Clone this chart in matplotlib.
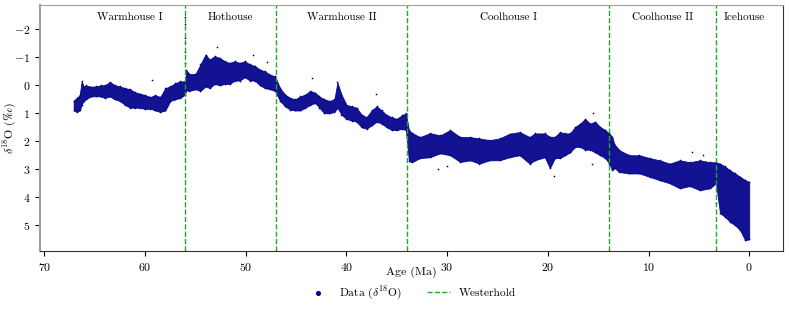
import matplotlib
matplotlib.use('Agg')
import matplotlib.pyplot as plt

plt.rcParams['font.family'] = ['cmr10', 'DejaVu Sans']
plt.rcParams['mathtext.fontset'] = 'cm'
plt.rcParams['axes.formatter.use_mathtext'] = True

# envelope of the d18O cloud (age Ma, upper / lower edge)
age = [67.1, 66.8, 66.5, 66.3, 66.1, 65.9, 65.4, 64.9, 64.4, 64.0, 63.5, 63.0,
       62.5, 62.0, 61.5, 61.0, 60.5, 60.0, 59.5, 59.0, 58.5, 58.0, 57.5, 57.0,
       56.5, 56.05, 55.9, 55.6, 55.0, 54.5, 54.0, 53.6, 53.1, 52.6, 52.1, 51.6,
       51.1, 50.6, 50.1, 49.6, 49.1, 48.6, 48.1, 47.6, 47.1, 46.6, 46.1, 45.6,
       45.1, 44.6, 44.1, 43.6, 43.1, 42.7, 42.2, 41.7, 41.2, 40.9, 40.5, 40.0,
       39.5, 39.0, 38.5, 38.0, 37.5, 37.0, 36.5, 36.0, 35.5, 35.0, 34.5, 34.1,
       33.8, 33.5, 32.7, 31.7, 30.7, 29.7, 28.7, 27.7, 26.8, 25.8, 24.8, 23.8,
       22.8, 21.8, 21.3, 20.3, 19.8, 19.3, 18.8, 18.3, 17.8, 17.3, 16.8, 16.3,
       15.8, 15.3, 14.8, 14.3, 13.9, 13.6, 13.4, 12.9, 11.9, 10.9, 9.9, 8.9,
       7.9, 6.9, 5.9, 4.9, 3.9, 3.3, 2.9, 2.4, 1.9, 1.4, 0.9, 0.4, 0.0]
d18o_top = [0.55, 0.45, 0.35, -0.15, 0.05, 0.0, 0.05, 0.04, 0.0, 0.0, -0.12, 0.0,
            0.04, 0.1, 0.14, 0.25, 0.3, 0.35, 0.42, 0.35, 0.42, 0.1, 0.04, -0.08,
            -0.14, -0.14, -0.54, -0.4, -0.4, -0.75, -1.1, -0.92, -1.04, -0.98, -0.86, -0.8,
            -0.86, -0.8, -0.86, -0.75, -0.69, -0.56, -0.5, -0.38, -0.32, 0.1, 0.33, 0.45,
            0.5, 0.4, 0.33, 0.2, 0.27, 0.4, 0.5, 0.56, 0.5, -0.1, 0.33, 0.7,
            0.75, 0.8, 1.05, 1.14, 0.9, 0.75, 0.9, 1.07, 1.14, 1.2, 1.07, 1.0,
            1.6, 1.7, 1.85, 1.71, 1.79, 1.6, 1.85, 1.85, 1.9, 1.96, 1.9, 1.73,
            1.67, 1.85, 1.72, 1.72, 1.84, 1.84, 1.67, 1.72, 1.72, 1.49, 1.37, 1.2,
            1.37, 1.3, 1.49, 1.6, 1.72, 1.85, 2.1, 2.32, 2.5, 2.5, 2.6, 2.68,
            2.8, 2.68, 2.75, 2.68, 2.75, 2.75, 2.8, 2.9, 3.04, 3.15, 3.27, 3.39, 3.45]
d18o_bot = [0.9, 0.95, 0.9, 0.7, 0.55, 0.5, 0.4, 0.39, 0.4, 0.45, 0.4, 0.5,
            0.56, 0.7, 0.8, 0.8, 0.8, 0.85, 0.83, 0.9, 0.95, 0.9, 0.56, 0.5,
            0.45, 0.33, 0.18, 0.2, 0.14, 0.2, 0.04, 0.1, -0.05, 0.0, -0.05, -0.05,
            -0.17, -0.17, -0.29, -0.17, -0.17, 0.0, 0.1, 0.14, 0.2, 0.56, 0.75, 0.87,
            0.9, 0.9, 0.8, 0.7, 0.63, 0.8, 1.0, 1.0, 0.95, 0.8, 1.05, 1.2,
            1.26, 1.3, 1.5, 1.55, 1.43, 1.3, 1.37, 1.5, 1.6, 1.6, 1.55, 1.6,
            2.7, 2.75, 2.6, 2.57, 2.43, 2.5, 2.74, 2.68, 2.8, 2.68, 2.68, 2.57,
            2.5, 2.8, 2.68, 2.57, 2.96, 2.6, 2.6, 2.5, 2.4, 2.2, 2.2, 2.3,
            2.3, 2.4, 2.5, 2.6, 2.8, 3.04, 2.95, 3.1, 3.15, 3.15, 3.27, 3.39,
            3.5, 3.68, 3.6, 3.75, 3.68, 3.5, 4.57, 4.7, 4.88, 5.0, 5.18, 5.54, 5.5]

# scattered single points outside the main cloud
out_age = [56.0, 56.0, 56.0, 56.0, 56.0, 56.0, 52.9, 49.3, 47.9, 43.4, 37.1, 59.3,
           30.9, 30.05, 19.4, 15.65, 15.5, 5.7, 4.6, 3.3]
out_d18o = [-2.45, -2.2, -1.7, -1.5, -1.2, -0.8, -1.37, -1.1, -0.83, -0.26, 0.32, -0.18,
            3.0, 2.88, 3.25, 2.8, 1.0, 2.38, 2.5, 4.2]

# Westerhold climate state boundaries and names
bounds = [56.0, 47.0, 34.0, 13.9, 3.3]
state_names = ['Warmhouse I', 'Hothouse', 'Warmhouse II', 'Coolhouse I', 'Coolhouse II', 'Icehouse']
state_pos = [61.5, 51.5, 40.5, 23.95, 8.6, 0.5]

fig = plt.figure(figsize=(7.89, 3.11), dpi=100)
ax = fig.add_axes([0.0507, 0.193, 0.942, 0.791])

col = '#00008b'
ax.fill_between(age, d18o_top, d18o_bot, color=col, alpha=0.93, lw=0.6, edgecolor=col)
ax.scatter(age + age + out_age, d18o_top + d18o_bot + out_d18o, s=1.5, color=col,
           lw=0, label=r'Data ($\delta^{18}\mathrm{O}$)')

for i, b in enumerate(bounds):
    ax.axvline(b, color='#2ca02c', ls='--', lw=1, label='Westerhold' if i == 0 else None)

for name, x in zip(state_names, state_pos):
    ax.text(x, -2.43, name, ha='center', va='center', fontsize=8)

ax.set_xlim(70.44, -3.38)
ax.set_ylim(5.92, -2.87)
ax.set_xticks([70, 60, 50, 40, 30, 20, 10, 0])
ax.set_yticks([-2, -1, 0, 1, 2, 3, 4, 5])
ax.tick_params(labelsize=8.5)
ax.set_xlabel('Age (Ma)', fontsize=8.6)
ax.set_ylabel(r'$\delta^{18}\mathrm{O}\ (\mathrm{‰})$', fontsize=8.6)
ax.xaxis.set_label_coords(0.5, -0.062)
ax.yaxis.set_label_coords(-0.028, 0.5)

ax.spines['left'].set_color('#a0a0a0')
ax.spines['left'].set_linewidth(1.5)
ax.spines['top'].set_color('#a0a0a0')
for s in ['right', 'bottom']:
    ax.spines[s].set_color('#333333')

ax.legend(loc='center', bbox_to_anchor=(0.5, -0.172), ncol=2, frameon=False,
          fontsize=8.3, scatterpoints=1, markerscale=3, columnspacing=2.2)

fig.savefig('out.png', dpi=100)
